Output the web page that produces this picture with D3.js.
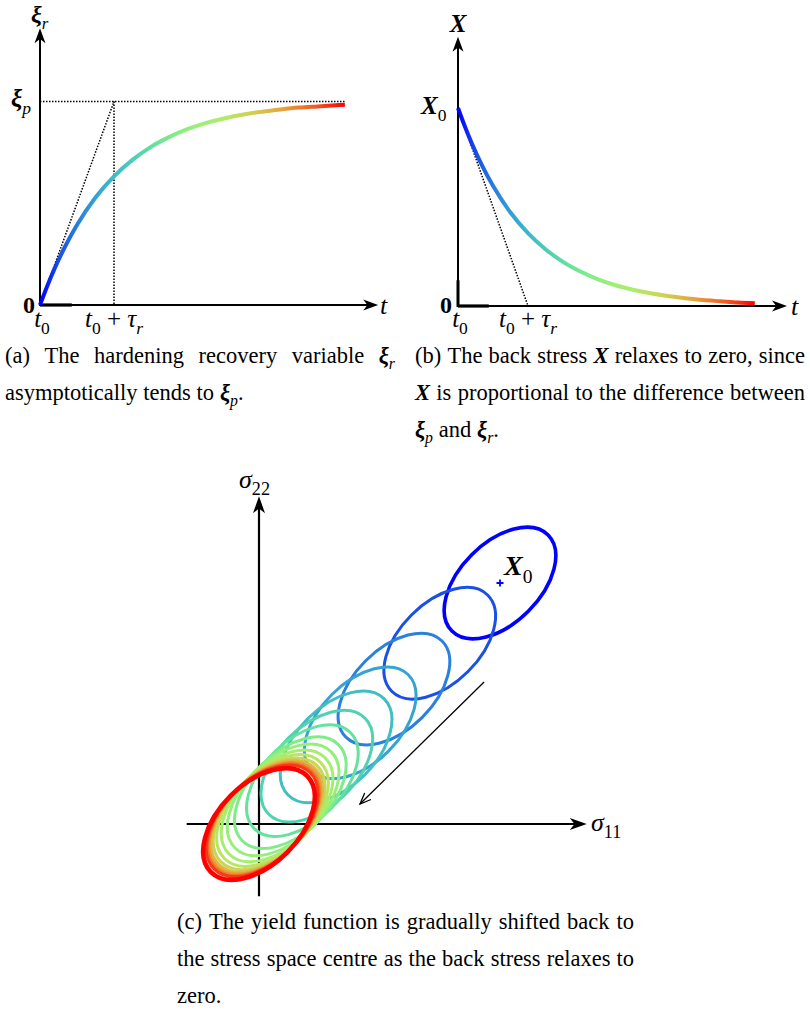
<!DOCTYPE html>
<html>
<head>
<meta charset="utf-8">
<script src="https://cdn.jsdelivr.net/npm/d3@7"></script>
<style>
  body { margin: 0; background: #fff; }
  svg { display: block; }
  text { font-family: "Liberation Serif", "DejaVu Serif", serif; fill: #000; white-space: pre; }
</style>
</head>
<body>
<svg id="fig" width="810" height="1013"></svg>
<script>
// (a) hardening recovery variable, t in units of tau_r, xi_r / xi_p
const tA  = [0, 0.1, 0.2, 0.35, 0.5, 0.75, 1, 1.25, 1.5, 1.75, 2, 2.25, 2.5, 2.75, 3, 3.25, 3.5, 3.75, 4.12];
const xiA = [0, 0.095, 0.181, 0.295, 0.393, 0.528, 0.632, 0.713, 0.777, 0.826, 0.865, 0.895, 0.918, 0.936, 0.950, 0.961, 0.970, 0.976, 0.984];

// (b) back stress, t in units of tau_r, X / X0
const tB = [0, 0.1, 0.2, 0.35, 0.5, 0.75, 1, 1.25, 1.5, 1.75, 2, 2.25, 2.5, 2.75, 3, 3.25, 3.5, 3.75, 4, 4.24];
const XB = [1, 0.905, 0.819, 0.705, 0.607, 0.472, 0.368, 0.287, 0.223, 0.174, 0.135, 0.105, 0.082, 0.064, 0.050, 0.039, 0.030, 0.024, 0.018, 0.014];

// (c) yield surface centres along sigma11 = sigma22 (in units of X0)
const backStress = [1, 0.75, 0.56, 0.42, 0.32, 0.24, 0.18, 0.13, 0.10, 0.075, 0.056, 0.042, 0.032, 0.024, 0.018, 0.013, 0.0];
const yieldMajor = 0.282, yieldMinor = 0.166;

const captionA = [["(a) The hardening recovery variable *ξ*_r", true], ["asymptotically tends to *ξ*_p.", false]];
const captionB = [["(b) The back stress *X* relaxes to zero, since", true],
                  ["*X* is proportional to the difference between", true],
                  ["*ξ*_p and *ξ*_r.", false]];
const captionC = [["(c) The yield function is gradually shifted back to", true],
                  ["the stress space centre as the back stress relaxes to", true],
                  ["zero.", false]];

const jetStops = [[0, "#0000ff"], [0.0625, "#1a50e6"], [0.125, "#2a80dc"], [0.1875, "#35a4d2"],
                  [0.25, "#40bec4"], [0.3125, "#50d2b0"], [0.375, "#66e29e"], [0.4375, "#80ec88"],
                  [0.5, "#95f07a"], [0.6, "#b0ec68"], [0.7, "#d0d050"], [0.8, "#e8a038"],
                  [0.9, "#f55a25"], [1, "#ff0000"]];
const jet = d3.scaleLinear().domain(jetStops.map(d => d[0])).range(jetStops.map(d => d[1])).clamp(true);

const svg = d3.select("#fig");
svg.append("rect").attr("width", 810).attr("height", 1013).attr("fill", "#fff");
const defs = svg.append("defs");

// tiny markup: *bold italic*, ~italic~, #bold#, _sub
function parse(str) {
    return str.split(/(\*[^*]+\*|~[^~]+~|#[^#]+#|_[A-Za-z0-9]+)/).filter(s => s).map(s => {
        if (s[0] === "*") return [s.slice(1, -1), "bi"];
        if (s[0] === "~") return [s.slice(1, -1), "i"];
        if (s[0] === "#") return [s.slice(1, -1), "b"];
        if (s[0] === "_") return [s.slice(1), /\d/.test(s[1]) ? "sr" : "si"];
        return [s, "r"];
    });
}

function addRuns(t, runs, size) {
    let shift = 0;
    runs.forEach(([str, st]) => {
        const ts = t.append("tspan").text(str);
        const sub = st[0] === "s";
        const target = sub ? size * 0.28 : 0;
        if (target !== shift) { ts.attr("dy", target - shift); shift = target; }
        ts.attr("font-size", sub ? size * 0.7 : size);
        if (st.includes("i")) ts.attr("font-style", "italic");
        if (st.includes("b")) ts.attr("font-weight", "bold");
    });
}

function label(g, x, y, str, size, anchor) {
    const t = g.append("text").attr("x", x).attr("y", y).attr("text-anchor", anchor || "start");
    addRuns(t, parse(str), size);
    return t;
}

function arrowHead(g, x, y, angle, len = 15, half = 5.5) {
    g.append("path")
     .attr("d", `M0,0L${-len},${-half}L${-len * 0.72},0L${-len},${half}Z`)
     .attr("transform", `translate(${x},${y}) rotate(${angle})`)
     .attr("fill", "#000");
}

function caption(lines, x0, width, y0, lh) {
    lines.forEach(([str, justify], i) => {
        const y = y0 + i * lh;
        const nodes = str.split(" ").map(w => {
            const t = svg.append("text").attr("y", y);
            addRuns(t, parse(w), 22.5);
            return t;
        });
        const widths = nodes.map(n => n.node().getComputedTextLength());
        const gap = justify ? (width - d3.sum(widths)) / (nodes.length - 1) : 5.8;
        let x = x0;
        nodes.forEach((n, j) => { n.attr("x", x); x += widths[j] + gap; });
    });
}

function gradient(id, x1, x2) {
    const gr = defs.append("linearGradient").attr("id", id)
        .attr("gradientUnits", "userSpaceOnUse")
        .attr("x1", x1).attr("x2", x2).attr("y1", 0).attr("y2", 0);
    gr.selectAll("stop").data(jetStops).enter().append("stop")
      .attr("offset", d => d[0]).attr("stop-color", d => d[1]);
}

function dotted(g, x1, y1, x2, y2) {
    g.append("line").attr("x1", x1).attr("y1", y1).attr("x2", x2).attr("y2", y2)
     .attr("stroke", "#000").attr("stroke-width", 1.5).attr("stroke-dasharray", "1.5,1.5");
}

function line(g, x1, y1, x2, y2, w) {
    g.append("line").attr("x1", x1).attr("y1", y1).attr("x2", x2).attr("y2", y2)
     .attr("stroke", "#000").attr("stroke-width", w);
}

// ---------- (a) ----------
const gA = svg.append("g");
const xA = d3.scaleLinear().domain([0, 1]).range([40, 114]);
const yA = d3.scaleLinear().domain([0, 1]).range([305, 101.5]);

line(gA, xA(0), yA(0), xA(4.57) - 9, yA(0), 2);
line(gA, xA(0), yA(0), xA(0.43), yA(0), 3.2);
line(gA, xA(0), yA(0) + 1, xA(0), yA(1.36) + 9, 2);
arrowHead(gA, xA(4.57), yA(0), 0);
arrowHead(gA, xA(0), yA(1.36), -90);

dotted(gA, xA(0), yA(1), xA(tA[tA.length - 1]), yA(1));
dotted(gA, xA(0), yA(0), xA(1), yA(1));
dotted(gA, xA(1), yA(1), xA(1), yA(0));

gradient("gradA", xA(0), xA(tA[tA.length - 1]));
gA.append("path")
  .datum(tA.map((t, i) => [t, xiA[i]]))
  .attr("d", d3.line().x(d => xA(d[0])).y(d => yA(d[1])).curve(d3.curveMonotoneX))
  .attr("fill", "none").attr("stroke", "url(#gradA)").attr("stroke-width", 4);

label(gA, 31, 22, "*ξ*_r", 24);
label(gA, 11, 107, "*ξ*_p", 25);
label(gA, 29, 313, "#0#", 24, "middle");
label(gA, 42, 327, "~t~_0", 25, "middle");
label(gA, xA(1), 327, "~t~_0 + ~τ~_r", 25, "middle");
label(gA, 380, 314, "~t~", 26);

// ---------- (b) ----------
const gB = svg.append("g");
const xB = d3.scaleLinear().domain([0, 1]).range([458, 528]);
const yB = d3.scaleLinear().domain([0, 1]).range([306, 108]);

line(gB, xB(0), yB(0), xB(4.7) - 9, yB(0), 2);
line(gB, xB(0), yB(0), xB(0.44), yB(0), 3.2);
line(gB, xB(0), yB(0) + 1, xB(0), yB(1.36) + 9, 2);
line(gB, xB(0), yB(0) + 1, xB(0), yB(0.13), 3);
arrowHead(gB, xB(4.7), yB(0), 0);
arrowHead(gB, xB(0), yB(1.36), -90);

dotted(gB, xB(0), yB(1), xB(1), yB(0));

gradient("gradB", xB(0), xB(tB[tB.length - 1]));
gB.append("path")
  .datum(tB.map((t, i) => [t, XB[i]]))
  .attr("d", d3.line().x(d => xB(d[0])).y(d => yB(d[1])).curve(d3.curveMonotoneX))
  .attr("fill", "none").attr("stroke", "url(#gradB)").attr("stroke-width", 4);

label(gB, 458, 32, "*X*", 25, "middle");
label(gB, 421, 114, "*X*_0", 25);
label(gB, 446, 313, "#0#", 24, "middle");
label(gB, 460, 327, "~t~_0", 25, "middle");
label(gB, xB(1), 327, "~t~_0 + ~τ~_r", 25, "middle");
label(gB, 791, 315, "~t~", 26);

// ---------- (c) ----------
const gC = svg.append("g");
const xC = d3.scaleLinear().domain([0, 1]).range([259, 500]);
const yC = d3.scaleLinear().domain([0, 1]).range([824, 583]);

line(gC, xC(-0.3), yC(0), xC(1.36) - 10, yC(0), 2.2);
line(gC, xC(0), yC(-0.3), xC(0), yC(1.36) + 10, 2.2);
arrowHead(gC, xC(1.36), yC(0), 0, 17, 6);
arrowHead(gC, xC(0), yC(1.36), -90, 17, 6);

const n = backStress.length;
gC.selectAll("ellipse").data(backStress).enter().append("ellipse")
  .attr("cx", d => xC(d)).attr("cy", d => yC(d))
  .attr("rx", xC(yieldMajor) - xC(0)).attr("ry", xC(yieldMinor) - xC(0))
  .attr("transform", d => `rotate(-45, ${xC(d)}, ${yC(d)})`)
  .attr("fill", "none")
  .attr("stroke", (d, i) => jet(i / (n - 1)))
  .attr("stroke-width", (d, i) => i === 0 ? 3.6 : i === n - 1 ? 4.6 : 3);

gC.append("path")
  .attr("d", `M${xC(1) - 3.5},${yC(1)}H${xC(1) + 3.5}M${xC(1)},${yC(1) - 3.5}V${yC(1) + 3.5}`)
  .attr("stroke", "#0000ff").attr("stroke-width", 1.8);

// relaxation arrow
const a0 = [xC(0.934), yC(0.589)], a1 = [xC(0.419), yC(0.083)];
line(gC, a0[0], a0[1], a1[0], a1[1], 1.3);
const ang = Math.atan2(a1[1] - a0[1], a1[0] - a0[0]) * 180 / Math.PI;
gC.append("path").attr("d", "M-11,-4.5L0,0L-11,4.5")
  .attr("transform", `translate(${a1[0]},${a1[1]}) rotate(${ang})`)
  .attr("fill", "none").attr("stroke", "#000").attr("stroke-width", 1.3);

label(gC, 504, 575, "*X*_0", 28);
label(gC, 239, 488, "~σ~_22", 26);
label(gC, 591, 831, "~σ~_11", 26);

// ---------- captions ----------
caption(captionA, 5, 390, 363, 37);
caption(captionB, 415, 390, 363, 37);
caption(captionC, 177, 457, 929, 37);
</script>
</body>
</html>
